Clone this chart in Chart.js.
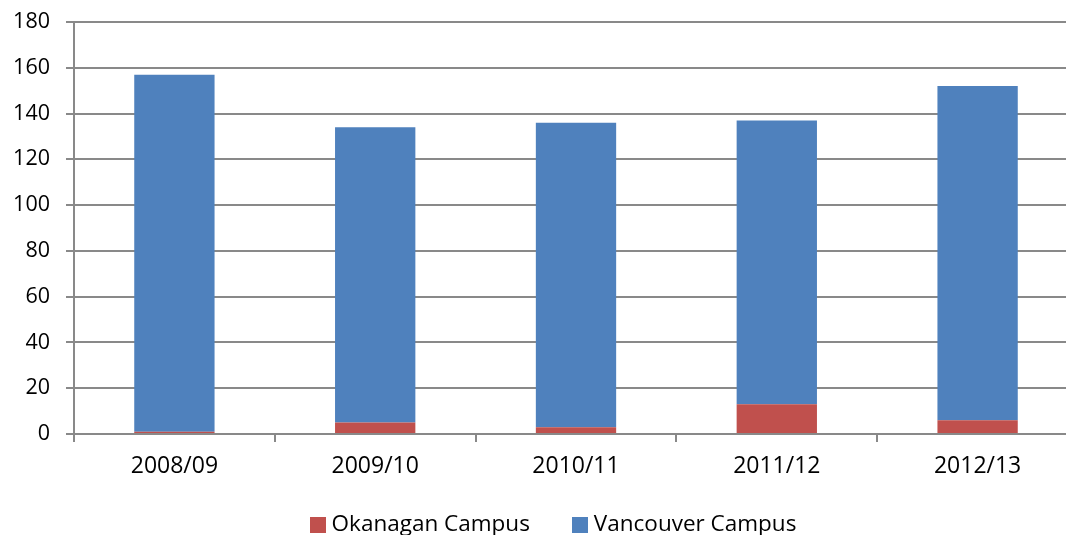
<!DOCTYPE html>
<html><head><meta charset="utf-8">
<script src="https://cdn.jsdelivr.net/npm/chart.js@4/dist/chart.umd.min.js"></script>
<style>
html,body{margin:0;padding:0;overflow:hidden;background:#fff;width:1066px;height:535px}
#wrap{position:relative;width:1108px;height:535px}
#legend{position:absolute;left:0;top:512px;width:1106px;display:flex;justify-content:center;align-items:center;font-family:'Open Sans',sans-serif;font-size:22.5px;line-height:22.5px;color:#000;white-space:nowrap}
.item{display:flex;align-items:center;margin:0 21px}
.sw{width:16px;height:16px;margin-right:6px;margin-top:3px}
</style>
</head><body><div id="wrap"><canvas id="c" width="1108" height="535"></canvas><div id="legend"></div></div>
<script>
const categories = ["2008/09","2009/10","2010/11","2011/12","2012/13"];
const okanagan = [1, 5, 3, 13, 6];
const vancouver = [156, 129, 133, 124, 146];
const yTicks = [0,20,40,60,80,100,120,140,160,180];
const seriesNames = ['Okanagan Campus', 'Vancouver Campus'];
const seriesColors = ['#C0504D', '#4F81BD'];

const FONT = "'Open Sans', sans-serif";
const chart = new Chart(document.getElementById('c'), {
  type: 'bar',
  data: {
    labels: categories,
    datasets: [
      {label: seriesNames[0], data: okanagan, backgroundColor: seriesColors[0], borderWidth: 0},
      {label: seriesNames[1], data: vancouver, backgroundColor: seriesColors[1], borderWidth: 0}
    ]
  },
  options: {
    responsive: false, animation: false,
    layout: {padding: {left: 0, right: 30, top: 22, bottom: 41}},
    datasets: {bar: {categoryPercentage: 1, barPercentage: 0.4}},
    plugins: {tooltip: {enabled: false}, legend: {display: false}},
    scales: {
      x: {stacked: true,
        grid: {offset: true, drawOnChartArea: false, drawTicks: true, tickLength: 8, color: '#898989', lineWidth: 2},
        border: {color: '#898989', width: 2},
        ticks: {font: {family: FONT, size: 23}, color: '#000', padding: 11},
        afterFit: s => { s.height = 60; s.paddingLeft = 0; s.paddingRight = 0; }
      },
      y: {stacked: true, min: 0, max: 180,
        afterBuildTicks: s => { s.ticks = yTicks.map(v => ({value: v})); },
        grid: {color: '#898989', lineWidth: 2, tickLength: 8},
        border: {color: '#898989', width: 2},
        ticks: {font: {family: FONT, size: 21.5}, color: '#000', padding: 16},
        afterFit: s => { s.width = 74; s.paddingTop = 0; s.paddingBottom = 0; }
      }
    }
  }
});

const lg = document.getElementById('legend');
chart.data.datasets.forEach(ds => {
  const it = document.createElement('div'); it.className = 'item';
  const sw = document.createElement('div'); sw.className = 'sw'; sw.style.background = ds.backgroundColor;
  const tx = document.createElement('span'); tx.textContent = ds.label;
  it.appendChild(sw); it.appendChild(tx); lg.appendChild(it);
});
</script></body></html>
